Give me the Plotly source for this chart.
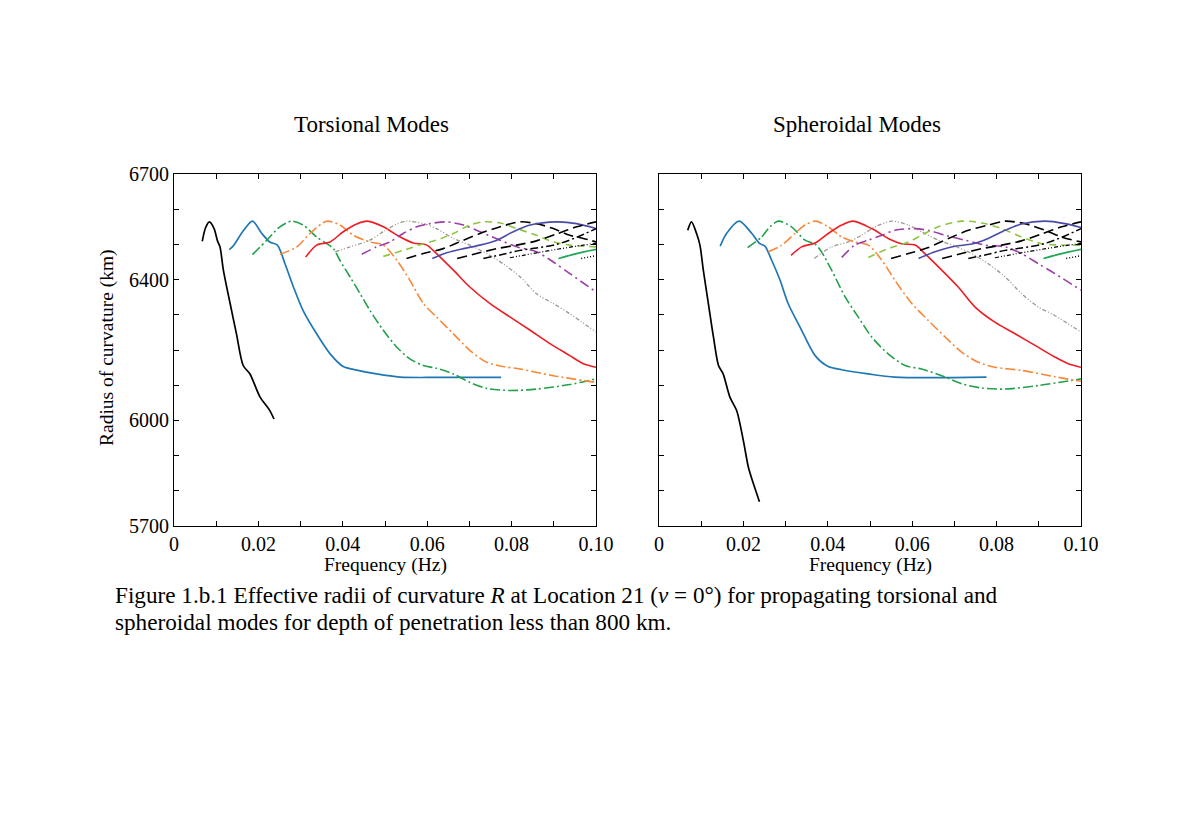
"""
Effective radii of curvature R at Location 21, torsional and spheroidal modes.
Two panels side by side, serif fonts, paper-figure look.
"""
import plotly.graph_objects as go

FONT = "Liberation Serif"
BLACK = "#000000"

# ---- torsional modes (frequency Hz, radius km) ----
t0_f = [0.0067, 0.0075, 0.0084, 0.0095, 0.0103, 0.0109, 0.0117, 0.0133, 0.0148, 0.0164, 0.018, 0.0204, 0.0226, 0.0237]
t0_r = [6509, 6548, 6564, 6545, 6510, 6493, 6427, 6332, 6246, 6156, 6132, 6066, 6030, 6004]
t1_f = [0.0131, 0.014, 0.0165, 0.0186, 0.0208, 0.0227, 0.0245, 0.0263, 0.0283, 0.0306, 0.0338, 0.037, 0.0401, 0.0433, 0.048, 0.0536, 0.0622, 0.0775]
t1_r = [6485, 6495, 6540, 6566, 6531, 6507, 6498, 6445, 6379, 6312, 6246, 6189, 6153, 6143, 6132, 6123, 6122, 6122]
t2_f = [0.0186, 0.022, 0.0251, 0.0279, 0.0306, 0.0338, 0.0362, 0.0378, 0.0393, 0.0417, 0.0441, 0.0464, 0.0496, 0.0528, 0.0559, 0.0591, 0.0622, 0.0662, 0.0701, 0.0741, 0.0796, 0.0859, 0.0938, 0.1]
t2_r = [6471, 6512, 6550, 6566, 6555, 6521, 6502, 6488, 6455, 6408, 6360, 6313, 6256, 6208, 6175, 6156, 6148, 6132, 6108, 6091, 6085, 6089, 6102, 6118]
t3_f = [0.0251, 0.0291, 0.0322, 0.0362, 0.0393, 0.0425, 0.0464, 0.0496, 0.0528, 0.0559, 0.0591, 0.0622, 0.0662, 0.0701, 0.0741, 0.078, 0.082, 0.0899, 0.1]
t3_r = [6472, 6493, 6531, 6566, 6555, 6526, 6507, 6498, 6455, 6398, 6332, 6294, 6246, 6199, 6165, 6153, 6146, 6127, 6108]
t4_f = [0.0312, 0.0338, 0.037, 0.0401, 0.0433, 0.0458, 0.0496, 0.0536, 0.0567, 0.0599, 0.0622, 0.0662, 0.0701, 0.0749, 0.0796, 0.0844, 0.0891, 0.0938, 0.097, 0.1]
t4_r = [6464, 6498, 6507, 6536, 6558, 6566, 6550, 6521, 6504, 6498, 6474, 6427, 6379, 6332, 6294, 6256, 6218, 6184, 6161, 6151]
t5_f = [0.0382, 0.0417, 0.0464, 0.0496, 0.0528, 0.0551, 0.0591, 0.0622, 0.0662, 0.0701, 0.0741, 0.078, 0.082, 0.0859, 0.0899, 0.0938, 0.1]
t5_r = [6479, 6493, 6512, 6536, 6558, 6566, 6559, 6545, 6517, 6498, 6474, 6445, 6408, 6360, 6332, 6303, 6251]
t6_f = [0.0445, 0.048, 0.0512, 0.0543, 0.0575, 0.0607, 0.0646, 0.0686, 0.0725, 0.0773, 0.0812, 0.0859, 0.0899, 0.0938, 0.1]
t6_r = [6472, 6493, 6507, 6531, 6550, 6559, 6564, 6555, 6536, 6512, 6493, 6479, 6450, 6417, 6365]
t7_f = [0.0496, 0.0543, 0.0591, 0.0622, 0.0662, 0.0701, 0.0733, 0.0773, 0.0812, 0.0859, 0.0899, 0.0938, 0.1]
t7_r = [6466, 6483, 6502, 6512, 6531, 6555, 6564, 6561, 6545, 6526, 6507, 6498, 6493]
t8_f = [0.0551, 0.0591, 0.0638, 0.0686, 0.0725, 0.0773, 0.082, 0.0859, 0.0899, 0.0938, 0.097, 0.1]
t8_r = [6460, 6474, 6488, 6512, 6531, 6550, 6564, 6559, 6545, 6526, 6517, 6507]
t9_f = [0.0612, 0.0646, 0.0686, 0.0725, 0.0765, 0.0804, 0.0844, 0.0907, 0.0954, 0.1]
t9_r = [6460, 6476, 6488, 6498, 6512, 6536, 6555, 6564, 6559, 6545]
t10_f = [0.0671, 0.0717, 0.0765, 0.0812, 0.0859, 0.0907, 0.0954, 0.1]
t10_r = [6460, 6474, 6488, 6498, 6510, 6530, 6550, 6564]
t11_f = [0.0733, 0.078, 0.082, 0.0859, 0.0907, 0.0954, 0.1]
t11_r = [6460, 6472, 6483, 6490, 6500, 6520, 6545]
t12_f = [0.0796, 0.0859, 0.0907, 0.0954, 0.1]
t12_r = [6462, 6476, 6486, 6495, 6503]
t13_f = [0.0911, 0.0954, 0.1]
t13_r = [6460, 6474, 6486]
t14_f = [0.0965, 0.1]
t14_r = [6460, 6468]

# ---- spheroidal modes ----
s0_f = [0.0068, 0.0077, 0.0089, 0.0097, 0.0105, 0.0117, 0.0129, 0.0141, 0.0152, 0.0168, 0.0184, 0.02, 0.0212, 0.0224, 0.0238]
s0_r = [6540, 6564, 6531, 6498, 6427, 6332, 6237, 6156, 6132, 6066, 6028, 5942, 5866, 5819, 5769]
s1_f = [0.0145, 0.016, 0.019, 0.022, 0.0239, 0.0251, 0.0267, 0.0287, 0.0306, 0.0338, 0.037, 0.0401, 0.0433, 0.0496, 0.0559, 0.0776]
s1_r = [6495, 6531, 6566, 6531, 6502, 6495, 6455, 6398, 6332, 6256, 6184, 6153, 6144, 6132, 6123, 6123]
s2_f = [0.021, 0.0243, 0.0263, 0.0283, 0.0314, 0.0346, 0.037, 0.0385, 0.0409, 0.0441, 0.0472, 0.0504, 0.0543, 0.0583, 0.0622, 0.067, 0.0717, 0.0765, 0.082, 0.0899, 0.1]
s2_r = [6491, 6521, 6550, 6566, 6550, 6512, 6501, 6479, 6427, 6351, 6294, 6237, 6189, 6156, 6146, 6127, 6104, 6092, 6089, 6099, 6118]
s3_f = [0.0259, 0.0291, 0.0322, 0.0346, 0.0371, 0.0401, 0.0433, 0.0464, 0.0496, 0.0528, 0.0559, 0.0599, 0.0638, 0.0678, 0.0717, 0.0757, 0.0796, 0.0859, 0.0938, 0.1]
s3_r = [6479, 6498, 6531, 6555, 6566, 6550, 6521, 6507, 6498, 6455, 6398, 6332, 6284, 6237, 6194, 6165, 6151, 6142, 6124, 6111]
s4_f = [0.0313, 0.0338, 0.037, 0.0401, 0.0433, 0.046, 0.0504, 0.0543, 0.0575, 0.0607, 0.063, 0.067, 0.0709, 0.0749, 0.0796, 0.0844, 0.0891, 0.0938, 0.097, 0.1]
s4_r = [6469, 6493, 6504, 6531, 6555, 6566, 6545, 6517, 6502, 6498, 6474, 6427, 6379, 6322, 6279, 6246, 6213, 6180, 6161, 6151]
s5_f = [0.0368, 0.0409, 0.0449, 0.048, 0.0512, 0.0551, 0.0591, 0.0622, 0.0662, 0.0701, 0.0741, 0.078, 0.082, 0.0859, 0.0899, 0.0938, 0.1]
s5_r = [6460, 6493, 6507, 6526, 6550, 6566, 6555, 6536, 6512, 6495, 6474, 6445, 6408, 6360, 6322, 6298, 6251]
s6_f = [0.0433, 0.0464, 0.0496, 0.0528, 0.0559, 0.0599, 0.0638, 0.0678, 0.0725, 0.0773, 0.082, 0.0859, 0.0899, 0.0938, 0.1]
s6_r = [6463, 6498, 6512, 6526, 6540, 6545, 6540, 6526, 6512, 6498, 6493, 6474, 6445, 6417, 6370]
s7_f = [0.0496, 0.0543, 0.0591, 0.0622, 0.0662, 0.0717, 0.0765, 0.0812, 0.0859, 0.0907, 0.0954, 0.1]
s7_r = [6463, 6488, 6507, 6526, 6550, 6566, 6561, 6545, 6521, 6502, 6498, 6498]
s8_f = [0.055, 0.0591, 0.0638, 0.0686, 0.0733, 0.078, 0.082, 0.0867, 0.0915, 0.0954, 0.1]
s8_r = [6460, 6474, 6491, 6517, 6540, 6555, 6566, 6559, 6540, 6521, 6507]
s9_f = [0.0615, 0.0654, 0.0701, 0.0741, 0.078, 0.082, 0.0859, 0.0915, 0.0962, 0.1]
s9_r = [6460, 6479, 6495, 6501, 6517, 6540, 6558, 6566, 6559, 6548]
s10_f = [0.0671, 0.0717, 0.0765, 0.0812, 0.0859, 0.0907, 0.0954, 0.1]
s10_r = [6460, 6474, 6488, 6498, 6510, 6530, 6550, 6564]
s11_f = [0.0733, 0.078, 0.082, 0.0859, 0.0907, 0.0954, 0.1]
s11_r = [6460, 6472, 6483, 6490, 6500, 6520, 6545]
s12_f = [0.0796, 0.0859, 0.0907, 0.0954, 0.1]
s12_r = [6462, 6476, 6486, 6495, 6503]
s13_f = [0.0911, 0.0954, 0.1]
s13_r = [6460, 6474, 6486]
s14_f = [0.0965, 0.1]
s14_r = [6460, 6468]

# axis ticks
X_TICKS = [0, 0.01, 0.02, 0.03, 0.04, 0.05, 0.06, 0.07, 0.08, 0.09, 0.10]
X_LABELS = ["0", "", "0.02", "", "0.04", "", "0.06", "", "0.08", "", "0.10"]
Y_TICKS = [5700, 5800, 5900, 6000, 6100, 6200, 6300, 6400, 6500, 6600, 6700]
Y_LABELS = ["5700", "", "", "6000", "", "", "", "6400", "", "", "6700"]

# style per mode: (color, dash, width)
STYLES = [
    (BLACK, "solid", 1.7),
    ("#1f78b4", "solid", 1.7),
    ("#22a04b", "10px,3px,2px,3px", 1.6),
    ("#f8883a", "10px,3px,2px,3px", 1.6),
    ("#ee1c25", "solid", 1.6),
    ("#a0968c", "4px,2px,1px,2px,1px,2px", 1.3),
    ("#9b3fa8", "10px,4px,2px,4px", 1.6),
    ("#8cc63f", "7px,5px", 1.6),
    (BLACK, "10px,5px", 1.6),
    ("#4a4aa8", "solid", 1.6),
    (BLACK, "10px,5px", 1.6),
    (BLACK, "8px,3px,2px,3px", 1.5),
    (BLACK, "4px,2px,1px,2px,1px,2px", 1.2),
    ("#1fa855", "solid", 1.7),
    (BLACK, "1px,2px", 1.4),
]

TORSIONAL = [(t0_f, t0_r), (t1_f, t1_r), (t2_f, t2_r), (t3_f, t3_r), (t4_f, t4_r),
             (t5_f, t5_r), (t6_f, t6_r), (t7_f, t7_r), (t8_f, t8_r), (t9_f, t9_r),
             (t10_f, t10_r), (t11_f, t11_r), (t12_f, t12_r), (t13_f, t13_r), (t14_f, t14_r)]
SPHEROIDAL = [(s0_f, s0_r), (s1_f, s1_r), (s2_f, s2_r), (s3_f, s3_r), (s4_f, s4_r),
              (s5_f, s5_r), (s6_f, s6_r), (s7_f, s7_r), (s8_f, s8_r), (s9_f, s9_r),
              (s10_f, s10_r), (s11_f, s11_r), (s12_f, s12_r), (s13_f, s13_r), (s14_f, s14_r)]

fig = go.Figure()
for modes, xa, ya in [(TORSIONAL, "x", "y"), (SPHEROIDAL, "x2", "y2")]:
    for (f, r), (color, dash, width) in zip(modes, STYLES):
        fig.add_trace(go.Scatter(
            x=f, y=r, mode="lines", xaxis=xa, yaxis=ya, showlegend=False,
            line=dict(color=color, dash=dash, width=width, shape="spline", smoothing=0.8),
        ))

# page body adds an 8px margin, so the figure is 8px smaller and positions are shifted
OFF = 8
W, H = 1200 - 2 * OFF, 828 - 2 * OFF
def px_x(p):
    return (p - OFF) / W
def px_y(p):
    return 1 - (p - OFF) / H

axis_common = dict(
    showline=True, linecolor=BLACK, linewidth=1.2, mirror="ticks", automargin=False,
    ticks="inside", ticklen=5, tickcolor=BLACK, showgrid=False, zeroline=False,
    tickfont=dict(family=FONT, size=20, color=BLACK),
)
xaxis = dict(axis_common, range=[0, 0.1], tickvals=X_TICKS, ticktext=X_LABELS)
yaxis = dict(axis_common, range=[5700, 6700], tickvals=Y_TICKS, ticktext=Y_LABELS)

label_font = dict(family=FONT, size=19.5, color=BLACK)
title_font = dict(family=FONT, size=23, color=BLACK)
caption_font = dict(family=FONT, size=23.2, color=BLACK)


def note(text, x, y, font, **kw):
    return dict(text=text, x=px_x(x), y=px_y(y), xref="paper", yref="paper",
                showarrow=False, font=font, **kw)


fig.update_layout(
    width=W, height=H,
    paper_bgcolor="white", plot_bgcolor="white",
    margin=dict(l=0, r=0, t=0, b=0),
    font=dict(family=FONT, color=BLACK),
    xaxis=dict(xaxis, domain=[px_x(174), px_x(596)], anchor="y"),
    xaxis2=dict(xaxis, domain=[px_x(659), px_x(1081)], anchor="y2"),
    yaxis=dict(yaxis, domain=[px_y(526), px_y(174)], anchor="x"),
    yaxis2=dict(yaxis, domain=[px_y(526), px_y(174)], anchor="x2", showticklabels=False),
    annotations=[
        note("Torsional Modes", 371, 125, title_font, xanchor="center", yanchor="middle"),
        note("Spheroidal Modes", 857, 125, title_font, xanchor="center", yanchor="middle"),
        note("Radius of curvature (km)", 107, 348, label_font, xanchor="center", yanchor="middle", textangle=-90),
        note("Frequency (Hz)", 385, 565, label_font, xanchor="center", yanchor="middle"),
        note("Frequency (Hz)", 870, 565, label_font, xanchor="center", yanchor="middle"),
        note("Figure 1.b.1 Effective radii of curvature <i>R</i> at Location 21 (<i>ν</i> = 0°) for propagating torsional and",
             113, 595, caption_font, xanchor="left", yanchor="middle"),
        note("spheroidal modes for depth of penetration less than 800 km.",
             113, 622, caption_font, xanchor="left", yanchor="middle"),
    ],
)

fig.write_html("out.html")
